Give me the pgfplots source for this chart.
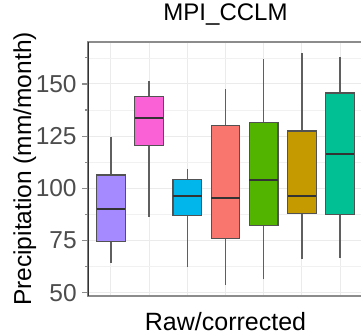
\documentclass[border=0pt]{standalone}
\usepackage{pgfplots}
\pgfplotsset{compat=1.18}
\usepackage{fontspec}
\setmainfont{Liberation Sans}
\definecolor{cpurple}{HTML}{A58AFF}
\definecolor{cpink}{HTML}{FB61D7}
\definecolor{ccyan}{HTML}{00B6EB}
\definecolor{csalmon}{HTML}{F8766D}
\definecolor{cgreen}{HTML}{53B400}
\definecolor{cgold}{HTML}{C49A00}
\definecolor{cteal}{HTML}{00C094}
\definecolor{gridc}{HTML}{EBEBEB}
\definecolor{bordc}{HTML}{8C8C8C}
\definecolor{darkc}{HTML}{333333}
\definecolor{tickc}{HTML}{4D4D4D}
\definecolor{whisk}{HTML}{5F5F5F}
\begin{document}
\fontsize{24.5bp}{28bp}\selectfont
\begin{tikzpicture}
\begin{axis}[
  at={(0,0)}, anchor=south west,
  scale only axis, width=275bp, height=254bp,
  xmin=0.4, xmax=7.6, ymin=48.4, ymax=170.1,
  xtick={1,2,3,4,5,6,7}, xticklabels={},
  ytick={50,75,100,125,150},
  minor ytick={62.5,87.5,112.5,137.5,162.5},
  grid=both,
  major grid style={draw=gridc, line width=1bp},
  minor grid style={draw=gridc!70, line width=0.7bp},
  axis line style={draw=bordc, line width=1.5bp},
  tick align=outside,
  major tick length=6bp,
  x tick style={draw=none},
  y tick style={draw=bordc, line width=1.2bp},
  /pgf/number format/assume math mode=true,
  yticklabel style={text=tickc, xshift=3bp, font=\fontsize{24.5bp}{28bp}\selectfont},
  title={MPI\_CCLM},
  title style={at={(axis description cs:0.5,1.063)}, anchor=base, font=\fontsize{24bp}{28bp}\selectfont, text=black},
  xlabel={Raw/corrected},
  xlabel style={at={(axis description cs:0.5,-0.134)}, anchor=base, font=\fontsize{25bp}{28bp}\selectfont},
  ylabel={Precipitation (mm/month)},
  ylabel style={at={(axis description cs:-0.207,0.5)}, anchor=base, font=\fontsize{24.5bp}{28bp}\selectfont},
  every axis plot/.append style={mark=none},
]
% box 1 (purple): whiskers 64.4 / 124.8, box 74.6-106.4, median 90.3
\addplot[whisk, line width=1.3bp] coordinates {(1,64.4) (1,74.6)};
\addplot[whisk, line width=1.3bp] coordinates {(1,106.4) (1,124.8)};
\addplot[fill=cpurple, draw=darkc!85, line width=1.2bp] coordinates {(0.625,74.6) (1.375,74.6) (1.375,106.4) (0.625,106.4)} -- cycle;
\addplot[darkc, line width=2bp] coordinates {(0.625,90.3) (1.375,90.3)};
% box 2 (pink)
\addplot[whisk, line width=1.3bp] coordinates {(2,86.3) (2,120.6)};
\addplot[whisk, line width=1.3bp] coordinates {(2,143.8) (2,151.6)};
\addplot[fill=cpink, draw=darkc!85, line width=1.2bp] coordinates {(1.625,120.6) (2.375,120.6) (2.375,143.8) (1.625,143.8)} -- cycle;
\addplot[darkc, line width=2bp] coordinates {(1.625,133.6) (2.375,133.6)};
% box 3 (cyan)
\addplot[whisk, line width=1.3bp] coordinates {(3,62.5) (3,87.1)};
\addplot[whisk, line width=1.3bp] coordinates {(3,104.2) (3,109.4)};
\addplot[fill=ccyan, draw=darkc!85, line width=1.2bp] coordinates {(2.625,87.1) (3.375,87.1) (3.375,104.2) (2.625,104.2)} -- cycle;
\addplot[darkc, line width=2bp] coordinates {(2.625,96.3) (3.375,96.3)};
% box 4 (salmon)
\addplot[whisk, line width=1.3bp] coordinates {(4,53.8) (4,75.9)};
\addplot[whisk, line width=1.3bp] coordinates {(4,130.0) (4,147.4)};
\addplot[fill=csalmon, draw=darkc!85, line width=1.2bp] coordinates {(3.625,75.9) (4.375,75.9) (4.375,130.0) (3.625,130.0)} -- cycle;
\addplot[darkc, line width=2bp] coordinates {(3.625,95.4) (4.375,95.4)};
% box 5 (green)
\addplot[whisk, line width=1.3bp] coordinates {(5,56.4) (5,82.0)};
\addplot[whisk, line width=1.3bp] coordinates {(5,131.5) (5,161.8)};
\addplot[fill=cgreen, draw=darkc!85, line width=1.2bp] coordinates {(4.625,82.0) (5.375,82.0) (5.375,131.5) (4.625,131.5)} -- cycle;
\addplot[darkc, line width=2bp] coordinates {(4.625,104.0) (5.375,104.0)};
% box 6 (gold)
\addplot[whisk, line width=1.3bp] coordinates {(6,66.1) (6,88.0)};
\addplot[whisk, line width=1.3bp] coordinates {(6,127.5) (6,165.0)};
\addplot[fill=cgold, draw=darkc!85, line width=1.2bp] coordinates {(5.625,88.0) (6.375,88.0) (6.375,127.5) (5.625,127.5)} -- cycle;
\addplot[darkc, line width=2bp] coordinates {(5.625,96.5) (6.375,96.5)};
% box 7 (teal)
\addplot[whisk, line width=1.3bp] coordinates {(7,66.8) (7,87.6)};
\addplot[whisk, line width=1.3bp] coordinates {(7,145.7) (7,163.1)};
\addplot[fill=cteal, draw=darkc!85, line width=1.2bp] coordinates {(6.625,87.6) (7.375,87.6) (7.375,145.7) (6.625,145.7)} -- cycle;
\addplot[darkc, line width=2bp] coordinates {(6.625,116.3) (7.375,116.3)};
\draw[darkc, line width=1.5bp] (rel axis cs:0,0) -- (rel axis cs:0,1);
\end{axis}
\pgfresetboundingbox
\path[use as bounding box] (-88bp,-40bp) rectangle (273bp,296bp);
\end{tikzpicture}
\end{document}
